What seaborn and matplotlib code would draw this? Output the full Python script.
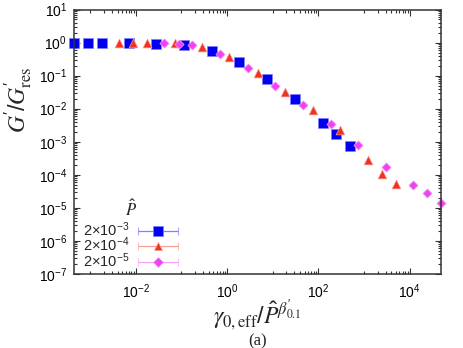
import numpy as np
import pandas as pd
import seaborn as sns
import matplotlib.pyplot as plt
from matplotlib import ticker
from matplotlib.container import ErrorbarContainer
from matplotlib.legend_handler import HandlerErrorbar

# values
x_p3 = [4.45e-4, 8.87e-4, 1.80e-3, 7.13e-3, 2.79e-2, 0.116, 0.462, 1.79, 7.52, 30.4, 125, 248, 502]
y_p3 = [1.0, 1.0, 1.0, 0.966, 0.92, 0.84, 0.565, 0.252, 0.0787, 0.0195, 3.6e-3, 1.74e-3, 7.55e-4]

x_p4 = [4.38e-3, 8.85e-3, 1.77e-2, 7.26e-2, 0.283, 1.12, 4.71, 18.7, 75.3, 303, 1208, 2449, 4966]
y_p4 = [1.0, 1.0, 1.0, 0.966, 0.731, 0.356, 0.117, 0.0325, 9.08e-3, 2.25e-3, 2.75e-4, 1.06e-4, 5.28e-5]

x_p5 = [4.24e-2, 8.89e-2, 0.174, 0.703, 2.84, 11.4, 45.5, 185, 748, 2965, 1.19e4, 2.43e4, 4.83e4]
y_p5 = [0.986, 0.92, 0.84, 0.449, 0.166, 0.0493, 0.0128, 3.43e-3, 8.05e-4, 1.68e-4, 5.07e-5, 2.9e-5, 1.37e-5]

labels = ['2×10$^{-3}$', '2×10$^{-4}$', '2×10$^{-5}$']

sns.set_style('ticks')
plt.rcParams['font.family'] = ['Liberation Sans', 'DejaVu Sans']
plt.rcParams['mathtext.fontset'] = 'stix'
plt.rcParams['mathtext.default'] = 'regular'

fig = plt.figure(figsize=(4.63, 3.48), dpi=100)
ax = fig.add_axes([0.1598, 0.2126, 0.7927, 0.7601])
ax.set_xscale('log')
ax.set_yscale('log')

series = [
    (x_p3, y_p3, 's', '#0000ee', '#8080ff', 52),
    (x_p4, y_p4, '^', '#ee3322', '#f7a090', 40),
    (x_p5, y_p5, 'D', '#ee44ee', '#f7a0f7', 22),
]

handles = []
for (xs, ys, mk, col, light, s), lab in zip(series, labels):
    df = pd.DataFrame({'x': xs, 'y': ys})
    sns.scatterplot(data=df, x='x', y='y', marker=mk, color=col, s=s,
                    edgecolor=light, linewidth=0.5, clip_on=False, ax=ax)
    # dummy handle just for the legend (error-bar style key)
    h = ax.errorbar([np.nan], [np.nan], xerr=[[1], [1]], fmt=mk, color=col,
                    ms=np.sqrt(s), mec=light, mew=0.5, ecolor=light, elinewidth=0.9,
                    capsize=3, capthick=0.9, label=lab)
    handles.append(h)

ax.set_xlim(4.45e-4, 4.87e4)
ax.set_ylim(1e-7, 10)

# ticks like the original (major every 2 decades on x)
ax.xaxis.set_major_locator(ticker.FixedLocator([1e-2, 1, 1e2, 1e4]))
minors = [k * 10.0 ** n for n in [-3, -1, 1, 3] for k in range(1, 10)]
ax.xaxis.set_minor_locator(ticker.FixedLocator(minors))
ax.xaxis.set_major_formatter(ticker.LogFormatterMathtext())
ax.xaxis.set_minor_formatter(ticker.NullFormatter())
ax.yaxis.set_major_locator(ticker.LogLocator(base=10, numticks=20))
ax.yaxis.set_minor_locator(ticker.LogLocator(base=10, subs=np.arange(2, 10), numticks=20))
ax.yaxis.set_major_formatter(ticker.LogFormatterMathtext())
ax.yaxis.set_minor_formatter(ticker.NullFormatter())

ax.tick_params(which='both', direction='in', top=True, right=True, width=0.8,
               labelsize=10, colors='#333333', labelcolor='black')
ax.tick_params(which='major', length=4.3, pad=5)
ax.tick_params(axis='x', which='major', pad=6)
ax.tick_params(which='minor', length=2.2)
for sp in ax.spines.values():
    sp.set_linewidth(1.1)
    sp.set_color('#333333')

ax.set_xlabel(r'$\mathit{\gamma}_{\mathrm{0,eff}}/\hat{\mathit{P}}^{\mathit{\beta}^{\prime}_{\mathrm{0.1}}}$',
              fontsize=17, labelpad=-2)
ax.set_ylabel(r'$\mathit{G}^{\prime}/\mathit{G}^{\prime}_{\mathrm{res}}$', fontsize=17)
ax.yaxis.set_label_coords(-0.11, 0.66)
fig.text(0.557, 0.02, '(a)', fontsize=12, family='Liberation Serif', ha='center', va='center')

leg = ax.legend(handles=handles, labels=labels, loc='lower left',
                bbox_to_anchor=(0.025, 0.015), frameon=False, markerfirst=False,
                fontsize=10.5, title=r'$\hat{\mathit{P}}$', title_fontsize=12,
                handlelength=2.8, handleheight=0.7, handletextpad=0.55, labelspacing=-0.2,
                borderpad=0.0, borderaxespad=0.0,
                handler_map={ErrorbarContainer: HandlerErrorbar(xerr_size=1.4)})
leg._legend_box.sep = 1

fig.savefig('out.png', dpi=100)
